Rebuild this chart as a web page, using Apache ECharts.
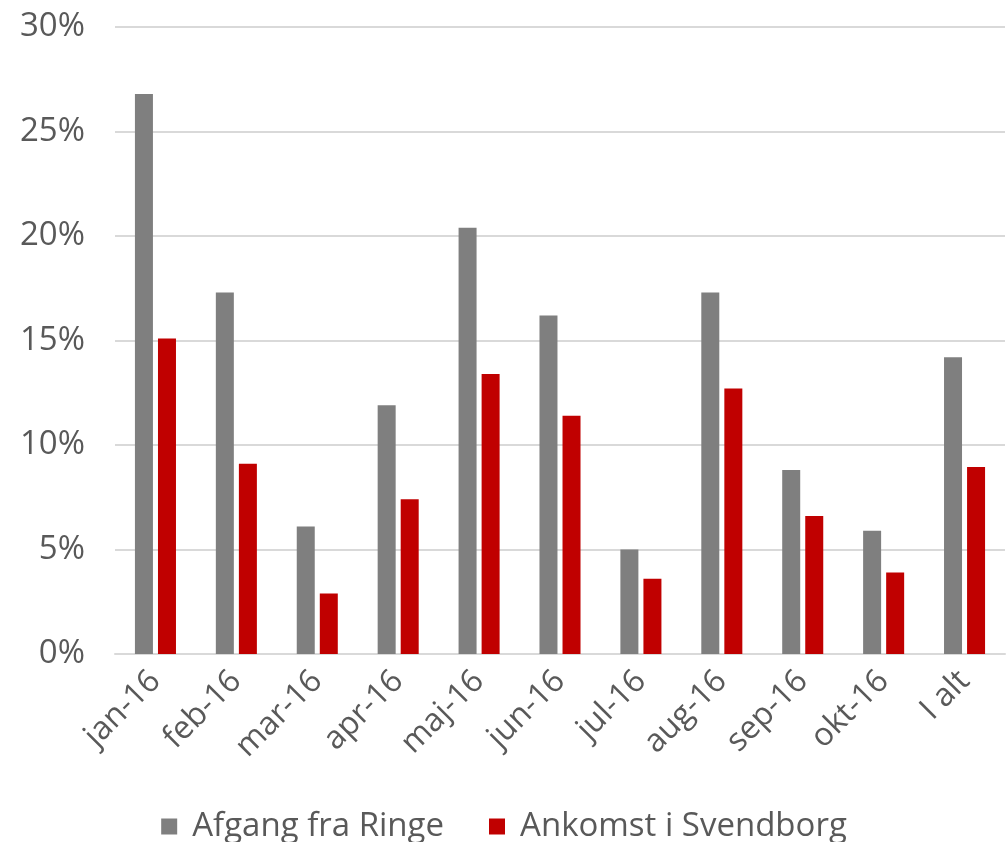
<!DOCTYPE html>
<html><head><meta charset="utf-8">
<script src="https://cdn.jsdelivr.net/npm/echarts@6/dist/echarts.min.js"></script>
<style>html,body{margin:0;padding:0;background:#fff}#c{width:1008px;height:842px}</style>
</head><body><div id="c"></div>
<script>
const categories = ['jan-16','feb-16','mar-16','apr-16','maj-16','jun-16','jul-16','aug-16','sep-16','okt-16','I alt'];
const afgang = [26.8,17.3,6.1,11.9,20.4,16.2,5.0,17.3,8.8,5.9,14.2];
const ankomst = [15.1,9.1,2.9,7.4,13.4,11.4,3.6,12.7,6.6,3.9,8.95];
const yTicks = [0,5,10,15,20,25,30];
const font = 'Open Sans';
const chart = echarts.init(document.getElementById('c'));
chart.setOption({
  animation:false,
  grid:{left:115,right:3,top:27,bottom:188,containLabel:false},
  legend:{bottom:-6,left:'center',itemWidth:16,itemHeight:16,itemGap:45,icon:'rect',
    textStyle:{fontFamily:font,fontSize:33,color:'#595959',padding:[0,0,0,10]},
    data:['Afgang fra Ringe','Ankomst i Svendborg']},
  xAxis:{type:'category',data:categories,
    axisLine:{lineStyle:{color:'#d9d9d9',width:2}},axisTick:{show:false},
    axisLabel:{rotate:45,fontFamily:font,fontSize:32,color:'#595959',margin:22,interval:0}},
  yAxis:{type:'value',min:0,max:30,interval:5,
    axisLabel:{formatter:v=>v+'%',fontFamily:font,fontSize:33,color:'#595959',margin:30},
    splitLine:{lineStyle:{color:'#d9d9d9',width:2}},axisLine:{show:false},axisTick:{show:false}},
  series:[
    {name:'Afgang fra Ringe',type:'bar',data:afgang,barWidth:18,barGap:'28%',itemStyle:{color:'#7f7f7f'}},
    {name:'Ankomst i Svendborg',type:'bar',data:ankomst,barWidth:18,itemStyle:{color:'#c00000'}}
  ]
});
</script></body></html>
